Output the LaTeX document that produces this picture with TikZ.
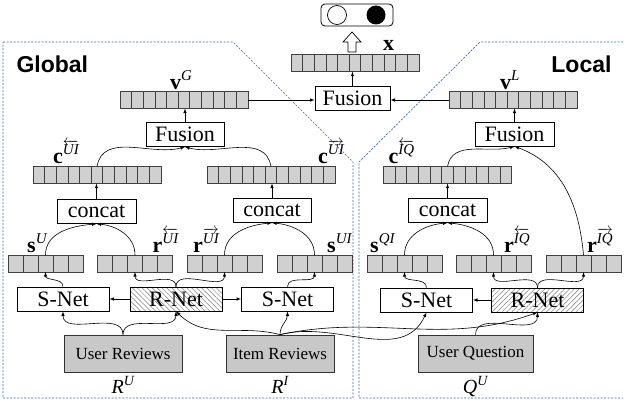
\documentclass[tikz,border=0pt]{standalone}
\usepackage{fix-cm}
\usepackage{amsmath}
\usepackage{fontspec}
\setmainfont{Liberation Serif}
\setsansfont{Liberation Sans}
\usepackage{xcolor}
\usetikzlibrary{arrows,positioning,patterns.meta}
\DeclareMathSizes{20}{20}{14}{10}

\definecolor{cellgray}{RGB}{208,208,208}
\definecolor{boxgray}{RGB}{200,200,200}
\definecolor{regionblue}{RGB}{62,102,172}

% feature vectors: name, x, y
\newcommand{\longvec}[3]{%
  \node[vecbox,minimum width=128pt] (#1) at (#2,#3) {};
  \foreach \k in {1,...,10}
    \draw[cellline] ([xshift=\k*11.636pt]#1.south west) -- ([xshift=\k*11.636pt]#1.north west);}
\newcommand{\shortvec}[3]{%
  \node[vecbox,minimum width=75pt] (#1) at (#2,#3) {};
  \foreach \k in {1,...,4}
    \draw[cellline] ([xshift=\k*15pt]#1.south west) -- ([xshift=\k*15pt]#1.north west);}
% bold vector letter with italic superscript
\newcommand{\vsym}[2]{\textbf{#1}\raisebox{8.5pt}{\fontsize{15}{15}\selectfont$#2$}}

\begin{document}
\begin{tikzpicture}[x=1pt,y=1pt]
\tikzset{vecbox/.style={draw=black!75,fill=cellgray,minimum height=17pt,inner sep=0pt,outer sep=0pt,line width=0.7pt}}
\tikzset{cellline/.style={black!75,line width=0.7pt}}
\tikzset{opbox/.style={draw,line width=0.8pt,minimum height=24pt,inner sep=1pt,font=\fontsize{22}{22}\selectfont}}
\tikzset{netbox/.style={opbox,minimum width=92pt}}
\tikzset{inbox/.style={draw=black!80,fill=boxgray,minimum height=37pt,line width=0.7pt,font=\fontsize{17}{17}\selectfont}}
\tikzset{lab/.style={inner sep=0pt,font=\fontsize{22}{22}\selectfont}}
\tikzset{flow/.style={->,>=latex,line width=0.6pt}}
\tikzset{region/.style={draw=regionblue,dash pattern=on 2pt off 1.5pt,line width=0.7pt}}
\tikzset{scope title/.style={font=\sffamily\bfseries\fontsize{23}{23}\selectfont}}

\useasboundingbox (0,0) rectangle (624,408);

\draw[region] (3,366) -- (233,366) -- (353,246) -- (353,10) -- (3,10) -- cycle;
\draw[region] (623,366) -- (480,366) -- (359,246) -- (359,10) -- (623,10);
\node[scope title,anchor=base west] (global) at (13,335) {Global};
\node[scope title,anchor=base east] (local) at (615,335) {Local};

% prediction
\node[draw,rounded corners=4pt,minimum width=72pt,minimum height=22pt,line width=0.8pt] (out) at (357,393) {};
\node[draw,circle,minimum size=19pt,inner sep=0pt,line width=0.7pt] (neg) at (337,393) {};
\node[circle,fill=black,minimum size=19pt,inner sep=0pt] (pos) at (376,393) {};
\draw[line width=0.7pt,fill=white] (348,356) -- (348,366) -- (343,366) -- (352,376) -- (361,366) -- (356,366) -- (356,356) -- cycle;

\longvec{xvec}{355}{345}
\node[lab,anchor=base west] (xlab) at ([xshift=-36pt,yshift=4pt]xvec.north east) {\textbf{x}};
\node[opbox,minimum width=75pt] (fus) at (352.5,309.5) {Fusion};

\longvec{vG}{184}{308}
\longvec{vL}{513}{308}
\node[lab,anchor=base west] (vGlab) at ([xshift=50pt,yshift=2pt]vG.north west) {\vsym{v}{\textit{G}}};
\node[lab,anchor=base west] (vLlab) at ([xshift=51pt,yshift=2pt]vL.north west) {\vsym{v}{\textit{L}}};

\node[opbox,minimum width=78pt] (fusG) at (185,273.5) {Fusion};
\node[opbox,minimum width=79pt] (fusL) at (514.5,274) {Fusion};

\longvec{cUIl}{97}{233}
\longvec{cUIr}{271}{233}
\longvec{cIQl}{447.5}{233}
\node[lab,anchor=base west] (cUIllab) at ([xshift=20pt,yshift=3pt]cUIl.north west) {\vsym{c}{\overleftarrow{\textit{UI}}}};
\node[lab,anchor=base west] (cUIrlab) at ([xshift=111pt,yshift=3pt]cUIr.north west) {\vsym{c}{\overrightarrow{\textit{UI}}}};
\node[lab,anchor=base west] (cIQllab) at ([xshift=5pt,yshift=3pt]cIQl.north west) {\vsym{c}{\overleftarrow{\textit{IQ}}}};

\node[opbox,minimum width=79pt] (catU) at (96.5,196.5) {concat};
\node[opbox,minimum width=78pt] (catI) at (272,197.5) {concat};
\node[opbox,minimum width=79pt] (catQ) at (447.5,197.5) {concat};

\shortvec{sU}{45.5}{144.5}
\shortvec{rUIl}{135}{144.5}
\shortvec{rUIr}{224.5}{144.5}
\shortvec{sUI}{314.5}{144.5}
\shortvec{sQI}{404.5}{144.5}
\shortvec{rIQl}{493.5}{144.5}
\shortvec{rIQr}{583.5}{144.5}
\node[lab,anchor=base west] (sUlab) at ([xshift=19pt,yshift=3pt]sU.north west) {\vsym{s}{\textit{U}}};
\node[lab,anchor=base west] (rUIllab) at ([xshift=55pt,yshift=3pt]rUIl.north west) {\vsym{r}{\overleftarrow{\textit{UI}}}};
\node[lab,anchor=base west] (rUIrlab) at ([xshift=6pt,yshift=3pt]rUIr.north west) {\vsym{r}{\overrightarrow{\textit{UI}}}};
\node[lab,anchor=base west] (sUIlab) at ([xshift=50pt,yshift=3pt]sUI.north west) {\vsym{s}{\textit{UI}}};
\node[lab,anchor=base west] (sQIlab) at ([xshift=3pt,yshift=3pt]sQI.north west) {\vsym{s}{\textit{QI}}};
\node[lab,anchor=base west] (rIQllab) at ([xshift=48pt,yshift=3pt]rIQl.north west) {\vsym{r}{\overleftarrow{\textit{IQ}}}};
\node[lab,anchor=base west] (rIQrlab) at ([xshift=41pt,yshift=3pt]rIQr.north west) {\vsym{r}{\overrightarrow{\textit{IQ}}}};

\node[netbox] (snetU) at (63,109) {S-Net};
\node[netbox,pattern={Lines[angle=-45,distance=3.5pt,line width=0.5pt]},pattern color=gray] (rnetU) at (176,109) {};
\node[opbox,draw=none] (rnetUtxt) at (rnetU) {R-Net};
\node[netbox] (snetI) at (287.5,109) {S-Net};
\node[netbox] (snetQ) at (426.5,108) {S-Net};
\node[netbox,pattern={Lines[angle=45,distance=3.5pt,line width=0.5pt]},pattern color=gray] (rnetQ) at (537.5,108) {};
\node[opbox,draw=none] (rnetQtxt) at (rnetQ) {R-Net};

\node[inbox,minimum width=118pt] (user) at (123,54.5) {User Reviews};
\node[inbox,minimum width=108pt] (item) at (280,54.5) {Item Reviews};
\node[inbox,minimum width=115pt] (quest) at (475.5,54.5) {User Question};
\node[lab,font=\fontsize{20}{20}\selectfont,below=4pt of user] (RU) {$\textit{R}^{\textit{U}}$};
\node[lab,font=\fontsize{20}{20}\selectfont,below=4pt of item] (RI) {$\textit{R}^{\textit{I}}$};
\node[lab,font=\fontsize{20}{20}\selectfont,below=4pt of quest] (QU) {$\textit{Q}^{\textit{U}}$};

% top level
\draw[flow] (vG.east) -- (vG.east -| fus.west);
\draw[flow] (vL.west) -- (vL.west -| fus.east);
\draw[flow] (fus.north) -- (fus.north |- xvec.south);
\draw[flow] (fusG.north) -- (fusG.north |- vG.south);
\draw[flow] (fusL.north) -- (fusL.north |- vL.south);

\draw[flow] (cUIl.north) to[out=80,in=195] (fusG.south);
\draw[flow] (cUIr.north) to[out=100,in=-15] (fusG.south);
\draw[flow] (cIQl.north) to[out=80,in=195] (fusL.south);
\draw[flow] (rIQr.north) to[out=95,in=-20] (fusL.south);

\draw[flow] (catU.north) -- (catU.north |- cUIl.south);
\draw[flow] (catI.north) -- (catI.north |- cUIr.south);
\draw[flow] (catQ.north) -- (catQ.north |- cIQl.south);

\draw[flow] (sU.north) to[out=90,in=185] (catU.south);
\draw[flow] (rUIl.north) to[out=90,in=-5] (catU.south);
\draw[flow] (rUIr.north) to[out=90,in=185] (catI.south);
\draw[flow] (sUI.north) to[out=90,in=-5] (catI.south);
\draw[flow] (sQI.north) to[out=90,in=185] (catQ.south);
\draw[flow] (rIQl.north) to[out=90,in=-5] (catQ.south);

% encoders
\draw[flow] (snetU.north) to[out=90,in=-90] (sU.south);
\draw[flow] (rnetU.north) to[out=90,in=-90] (rUIl.south);
\draw[flow] (rnetU.north) to[out=90,in=-90] (rUIr.south);
\draw[flow] (snetI.north) to[out=90,in=-90] (sUI.south);
\draw[flow] (snetQ.north) to[out=90,in=-90] (sQI.south);
\draw[flow] (rnetQ.north) to[out=90,in=-90] (rIQl.south);
\draw[flow] (rnetQ.north) to[out=90,in=-90] (rIQr.south);

\draw[flow] (rnetU.west) -- (snetU.east);
\draw[flow] (rnetU.east) -- (snetI.west);
\draw[flow] (rnetQ.west) -- (snetQ.east);

% inputs
\draw[flow] (user.north) to[out=90,in=-90] (snetU.south);
\draw[flow] (user.north) to[out=90,in=-90] (rnetU.south);
\draw[flow] (item.north) to[out=165,in=-45] (rnetU.south);
\draw[flow] (item.north) to[out=90,in=-90] (snetI.south);
\draw[flow] (item.north) to[out=15,in=-115] (snetQ.south);
\draw[flow] (item.north) to[out=12,in=-160] (rnetQ.south);
\draw[flow] (quest.north) to[out=90,in=-90] (rnetQ.south);

\end{tikzpicture}
\end{document}
